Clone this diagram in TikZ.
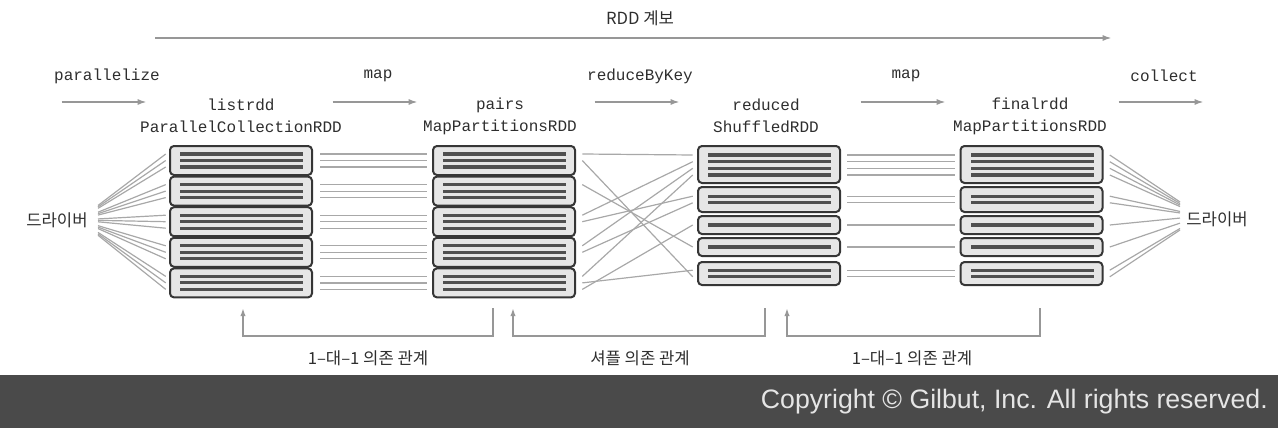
\documentclass[tikz,border=0pt]{standalone}
\usepackage{fontspec}
\setmainfont{Liberation Sans}
\setmonofont{Liberation Mono}
\newfontfamily\kr{Noto Sans CJK KR}
\usetikzlibrary{arrows.meta,calc}

\definecolor{boxgray}{HTML}{E6E6E6}
\definecolor{edgegray}{HTML}{363636}
\definecolor{datagray}{HTML}{505050}
\definecolor{linkgray}{HTML}{A8A8A8}
\definecolor{arrowgray}{HTML}{979797}
\definecolor{footgray}{HTML}{4A4A4A}
\definecolor{inkgray}{HTML}{2E2E2E}

\tikzset{
  part/.style={draw=edgegray, fill=boxgray, line width=1.5pt, rounded corners=3pt,
    minimum width=106.5pt, inner sep=0pt},
  dline/.style={fill=datagray, minimum width=92.25pt, minimum height=2.3pt, inner sep=0pt},
  link/.style={linkgray, line width=0.9pt},
  oparrow/.style={arrowgray, line width=1.4pt, -{Latex[length=7pt,width=4.5pt]}},
  op/.style={font=\ttfamily\fontsize{12}{14}\selectfont, text=inkgray, inner sep=0pt},
  rddname/.style={font=\ttfamily\fontsize{12}{16.5}\selectfont, text=inkgray, align=center, inner sep=0pt},
  krlabel/.style={font=\kr\fontsize{12.5}{14}\selectfont, text=inkgray, inner sep=0pt}
}

\begin{document}
\begin{tikzpicture}[x=0.75pt, y=-0.75pt]
  \useasboundingbox (0,0) rectangle (1278,428);

  % Lineage arrow on top
  \node[krlabel] (lineage) at (640,18) {RDD 계보};
  \coordinate (linS) at (155,38);
  \coordinate (linE) at (1112,38);
  \draw[oparrow] (linS) -- (linE);

  %% Operations
  \foreach \n/\x/\t in {opA/107/parallelize, opB/378/map, opC/640/reduceByKey,
      opD/906/map, opE/1164/collect} {
    \node[op] (\n) at (\x,76) {\t};
    \draw[oparrow] ([shift={(-34pt,-19.5pt)}]\n.center) -- ([shift={(30pt,-19.5pt)}]\n.center);
  }

  %% RDD names
  \node[rddname] (nameA) at (241,116) {listrdd\\ParallelCollectionRDD};
  \node[rddname] (nameB) at (500,116) {pairs\\MapPartitionsRDD};
  \node[rddname] (nameC) at (766,116) {reduced\\ShuffledRDD};
  \node[rddname] (nameD) at (1030,116) {finalrdd\\MapPartitionsRDD};

  % listrdd and pairs: five partitions, three records each
  \foreach \r/\x in {1/241,2/504} {
    \foreach \p in {1,...,5} {
      \pgfmathsetmacro\yc{160.5+30.6*(\p-1)}
      \node[part, minimum height=21.75pt] (r\r p\p) at (\x,\yc) {};
      \foreach \l in {1,2,3} {
        \pgfmathtruncatemacro\k{3*(\p-1)+\l}
        \node[dline] (r\r d\k) at (\x+0.5,\yc+6.5*\l-13) {};
      }
    }
  }

  % reduced and finalrdd: uneven partitions
  \foreach \r/\x in {3/769,4/1031.5} {
    \foreach \p/\yc/\h in {1/164.5/27.75pt, 2/199.5/18.75pt, 3/225/13.5pt,
        4/247/13.5pt, 5/273.5/17.25pt}
      \node[part, minimum height=\h] (r\r p\p) at (\x,\yc) {};
    \foreach \k/\yl in {1/155,2/161.7,3/168.3,4/175,5/196.2,6/202.8,
        7/225,8/247,9/270.2,10/276.8}
      \node[dline] (r\r d\k) at (\x+0.5,\yl) {};
  }

  %% Drivers
  \node[krlabel] (drvL) at (57,220) {드라이버};
  \node[krlabel] (drvR) at (1217,219) {드라이버};
  \coordinate (fanL) at (98,220);
  \coordinate (fanR) at (1180,216);

  \foreach \k in {1,...,15}
    \draw[link] ($(fanL)!0.22!(fanL |- r1d\k.west)$) -- ([xshift=-10.5pt]r1d\k.west);
  \foreach \k in {1,...,10}
    \draw[link] ([xshift=12pt]r4d\k.east) -- ($(fanR)!0.23!(fanR |- r4d\k.east)$);

  %% One-to-one links
  \foreach \k in {1,...,15}
    \draw[link] ([xshift=12.75pt]r1d\k.east) -- ([xshift=-12pt]r2d\k.west);
  \foreach \k in {1,...,10}
    \draw[link] ([xshift=12pt]r3d\k.east) -- ([xshift=-11.6pt]r4d\k.west);

  %% Shuffle links
  \foreach \s/\t in {1/1, 2/10, 4/8, 7/2, 8/5, 10/3, 11/6, 13/4, 14/9, 15/7}
    \draw[link] ([xshift=12pt]r2d\s.east) -- ([xshift=-11.25pt]r3d\t.west);

  %% Dependencies
  \foreach \i/\a/\b in {1/243/493, 2/513/765, 3/787/1040} {
    \coordinate (dep\i s) at (\b,308);
    \coordinate (dep\i e) at (\a,308);
    \draw[oparrow, -{Latex[length=6pt,width=4pt]}] (dep\i s) -- ++(0,28) -| (dep\i e);
  }
  \node[krlabel] (depA) at (368,358) {1–대–1 의존 관계};
  \node[krlabel] (depB) at (640,358) {셔플 의존 관계};
  \node[krlabel] (depC) at (912,358) {1–대–1 의존 관계};

  % Footer
  \fill[footgray] (0,375) rectangle (1278,428);
  \node[anchor=east, font=\fontsize{20}{22}\selectfont, text=white!90!black, inner sep=0pt]
    (copy) at (1268,402) {Copyright © Gilbut, Inc. All rights reserved.};
\end{tikzpicture}
\end{document}
